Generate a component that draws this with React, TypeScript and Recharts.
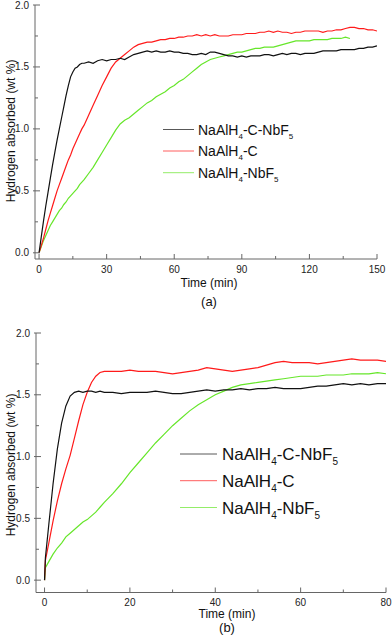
import { LineChart, Line, XAxis, YAxis } from "recharts"

const FONT = "'Liberation Sans', Arial, sans-serif"
const AXIS = "#666"
const BLACK = "#111111"
const RED = "#ff1a1a"
const GREEN = "#66e62a"

const seriesNames = ["NaAlH4-C-NbF5", "NaAlH4-C", "NaAlH4-NbF5"]

// panel (a)
const timeA = [
  0, 1, 2, 3, 4, 5, 6, 7, 8, 9, 10, 11, 12, 13, 14, 15, 16, 17, 18, 19, 20,
  22, 24, 26, 28, 30, 32, 34, 36, 38, 40,
  42, 44, 46, 48, 50, 52, 54, 56, 58, 60,
  62, 64, 66, 68, 70, 72, 74, 76, 78, 80,
  82, 84, 86, 88, 90, 92, 94, 96, 98, 100,
  102, 104, 106, 108, 110, 112, 114, 116, 118, 120,
  122, 124, 126, 128, 130, 132, 134, 136, 138, 140,
  142, 144, 146, 148, 150,
]
const blackA = [
  0, 0.13, 0.26, 0.38, 0.49, 0.6, 0.71, 0.81, 0.91, 1.0, 1.09, 1.18, 1.27, 1.35, 1.42, 1.46, 1.49, 1.5, 1.52, 1.53, 1.53,
  1.54, 1.53, 1.55, 1.56, 1.55, 1.56, 1.56, 1.57, 1.56, 1.58,
  1.60, 1.61, 1.62, 1.63, 1.62, 1.63, 1.62, 1.62, 1.63, 1.62,
  1.62, 1.61, 1.61, 1.60, 1.60, 1.61, 1.60, 1.62, 1.62, 1.61,
  1.60, 1.59, 1.59, 1.58, 1.59, 1.58, 1.59, 1.59, 1.59, 1.60,
  1.60, 1.59, 1.60, 1.61, 1.60, 1.61, 1.61, 1.60, 1.61, 1.61,
  1.61, 1.62, 1.63, 1.63, 1.63, 1.63, 1.64, 1.64, 1.64, 1.64,
  1.65, 1.65, 1.66, 1.66, 1.67,
]
const redA = [
  0, 0.06, 0.12, 0.19, 0.26, 0.32, 0.38, 0.44, 0.5, 0.55, 0.6, 0.65, 0.7, 0.75, 0.79, 0.84, 0.88, 0.92, 0.96, 1.0, 1.03,
  1.11, 1.19, 1.27, 1.35, 1.42, 1.49, 1.54, 1.57, 1.60, 1.63,
  1.66, 1.68, 1.69, 1.70, 1.70, 1.71, 1.72, 1.72, 1.73, 1.73,
  1.74, 1.74, 1.75, 1.75, 1.76, 1.75, 1.76, 1.75, 1.76, 1.75,
  1.75, 1.75, 1.76, 1.76, 1.76, 1.77, 1.77, 1.77, 1.78, 1.78,
  1.79, 1.78, 1.79, 1.78, 1.78, 1.77, 1.78, 1.78, 1.79, 1.79,
  1.79, 1.79, 1.78, 1.79, 1.79, 1.80, 1.80, 1.81, 1.82, 1.82,
  1.81, 1.81, 1.80, 1.80, 1.79,
]
const greenA = [
  0, 0.05, 0.1, 0.14, 0.18, 0.22, 0.25, 0.28, 0.31, 0.34, 0.36, 0.39, 0.41, 0.44, 0.46, 0.48, 0.5, 0.52, 0.55, 0.57, 0.59,
  0.64, 0.69, 0.75, 0.81, 0.87, 0.93, 0.99, 1.04, 1.07, 1.09,
  1.12, 1.15, 1.18, 1.21, 1.23, 1.26, 1.28, 1.30, 1.33, 1.35,
  1.38, 1.40, 1.43, 1.46, 1.49, 1.52, 1.54, 1.56, 1.57, 1.58,
  1.59, 1.60, 1.61, 1.62, 1.62, 1.63, 1.64, 1.65, 1.65, 1.66,
  1.66, 1.66, 1.67, 1.68, 1.69, 1.70, 1.71, 1.71, 1.71, 1.71,
  1.72, 1.72, 1.72, 1.72, 1.73, 1.73, 1.73, 1.74, 1.73, null,
  null, null, null, null, null,
]
const xTicksA = [0, 15, 30, 45, 60, 75, 90, 105, 120, 135, 150]

// panel (b)
const timeB = [
  0, 0.2,
  1, 2, 3, 4, 5, 6, 7, 8, 9, 10, 11, 12, 13, 14,
  16, 18, 20, 22, 24, 26, 28, 30, 32, 34,
  36, 38, 40, 42, 44, 46, 48, 50, 52, 54,
  56, 58, 60, 62, 64, 66, 68, 70, 72, 74,
  76, 78, 80,
]
const blackB = [
  0, 0.18,
  0.45, 0.78, 1.06, 1.27, 1.41, 1.49, 1.52, 1.53, 1.52, 1.53, 1.53, 1.52, 1.53, 1.52,
  1.52, 1.51, 1.52, 1.52, 1.52, 1.53, 1.52, 1.51, 1.51, 1.52,
  1.53, 1.54, 1.53, 1.54, 1.54, 1.55, 1.54, 1.55, 1.55, 1.56,
  1.55, 1.55, 1.55, 1.56, 1.57, 1.57, 1.58, 1.59, 1.58, 1.59,
  1.58, 1.59, 1.59,
]
const redB = [
  0, 0.16,
  0.30, 0.48, 0.64, 0.78, 0.90, 1.01, 1.15, 1.29, 1.42, 1.52, 1.60, 1.65, 1.68, 1.69,
  1.69, 1.69, 1.70, 1.69, 1.69, 1.69, 1.68, 1.67, 1.68, 1.69,
  1.70, 1.72, 1.71, 1.70, 1.69, 1.70, 1.71, 1.72, 1.74, 1.76,
  1.77, 1.76, 1.76, 1.76, 1.75, 1.76, 1.77, 1.78, 1.79, 1.78,
  1.78, 1.78, 1.77,
]
const greenB = [
  0, 0.10,
  0.15, 0.21, 0.26, 0.30, 0.35, 0.38, 0.41, 0.44, 0.47, 0.49, 0.52, 0.55, 0.59, 0.63,
  0.70, 0.78, 0.87, 0.95, 1.03, 1.11, 1.18, 1.25, 1.31, 1.37,
  1.42, 1.46, 1.50, 1.53, 1.56, 1.58, 1.59, 1.60, 1.61, 1.62,
  1.63, 1.64, 1.65, 1.65, 1.65, 1.66, 1.66, 1.66, 1.67, 1.67,
  1.67, 1.68, 1.67,
]
const xTicksB = [0, 10, 20, 30, 40, 50, 60, 70, 80]

const yTicks = [0, 0.25, 0.5, 0.75, 1.0, 1.25, 1.5, 1.75, 2.0]

const tableA = timeA.map((t, i) => ({ t, black: blackA[i], red: redA[i], green: greenA[i] }))
const tableB = timeB.map((t, i) => ({ t, black: blackB[i], red: redB[i], green: greenB[i] }))

const makeXTick = (majorStep: number) => (props: any) => {
  const { x, y, payload } = props
  const major = payload.value % majorStep === 0
  return (
    <g>
      <line x1={x} x2={x} y1={y} y2={y - (major ? 5 : 3)} stroke={AXIS} />
      {major && (
        <text x={x} y={y + 13.5} textAnchor="middle" fontSize={10} fill="#222" fontFamily={FONT}>
          {payload.value}
        </text>
      )}
    </g>
  )
}

const YTick = (props: any) => {
  const { x, y, payload } = props
  const v = payload.value
  const major = Math.abs(v * 2 - Math.round(v * 2)) < 1e-6
  return (
    <g>
      <line x1={major ? x - 2 : x} x2={x + (major ? 5 : 3)} y1={y} y2={y} stroke={AXIS} />
      {major && (
        <text x={x - 6} y={y + 3.5} textAnchor="end" fontSize={10} fill="#222" fontFamily={FONT}>
          {v.toFixed(1)}
        </text>
      )}
    </g>
  )
}

// text with the digits set as subscripts, for the svg overlay
function Formula({ text, x, y, size }: { text: string; x: number; y: number; size: number }) {
  const parts = text.split(/(\d)/).filter((p) => p !== "")
  const sub = Math.round(size * 0.6)
  const drop = size * 0.3
  let down = false
  return (
    <text x={x} y={y} fontSize={size} fill="#111" fontFamily={FONT}>
      {parts.map((p, i) => {
        const isSub = /\d/.test(p)
        const dy = isSub ? (down ? 0 : drop) : down ? -drop : 0
        down = isSub
        return (
          <tspan key={i} dy={dy} fontSize={isSub ? sub : size}>
            {p}
          </tspan>
        )
      })}
    </text>
  )
}

interface PanelProps {
  data: any[]
  height: number
  margin: { top: number; right: number; bottom: number; left: number }
  yWidth: number
  xHeight: number
  xDomain: [number, number]
  yDomain: [number, number]
  xTicks: number[]
  majorStep: number
  yTitleY: number
  xTitle: { x: number; y: number }
  tag: string
  tagY: number
  legend: { lineX: number; lineW: number; textX: number; rows: number[]; size: number }
}

function Panel(p: PanelProps) {
  const colors = [BLACK, RED, GREEN]
  return (
    <div style={{ position: "relative", width: 392, height: p.height }}>
      <LineChart width={392} height={p.height} data={p.data} margin={p.margin}>
        <XAxis
          dataKey="t"
          type="number"
          domain={p.xDomain}
          ticks={p.xTicks}
          interval={0}
          allowDataOverflow
          height={p.xHeight}
          stroke={AXIS}
          tickLine={false}
          tickSize={0}
          tickMargin={0}
          tick={makeXTick(p.majorStep)}
        />
        <XAxis
          xAxisId="top"
          orientation="top"
          dataKey="t"
          type="number"
          domain={p.xDomain}
          height={0}
          stroke={AXIS}
          tick={false}
          tickLine={false}
        />
        <YAxis
          type="number"
          domain={p.yDomain}
          ticks={yTicks}
          interval={0}
          allowDataOverflow
          width={p.yWidth}
          stroke={AXIS}
          tickLine={false}
          tickSize={0}
          tickMargin={0}
          tick={YTick}
        />
        <YAxis
          yAxisId="right"
          orientation="right"
          domain={p.yDomain}
          width={0}
          stroke={AXIS}
          tick={false}
          tickLine={false}
        />
        <Line dataKey="green" stroke={GREEN} strokeWidth={1.2} dot={false} isAnimationActive={false} />
        <Line dataKey="red" stroke={RED} strokeWidth={1.2} dot={false} isAnimationActive={false} />
        <Line dataKey="black" stroke={BLACK} strokeWidth={1.2} dot={false} isAnimationActive={false} />
      </LineChart>
      <svg
        width={392}
        height={p.height}
        style={{ position: "absolute", left: 0, top: 0, pointerEvents: "none" }}
      >
        <text
          transform={`translate(15, ${p.yTitleY}) rotate(-90)`}
          textAnchor="middle"
          fontSize={12}
          fill="#111"
          fontFamily={FONT}
        >
          Hydrogen absorbed (wt %)
        </text>
        <text x={p.xTitle.x} y={p.xTitle.y} textAnchor="middle" fontSize={12} fill="#111" fontFamily={FONT}>
          Time (min)
        </text>
        <text x={p.xTitle.x} y={p.tagY} textAnchor="middle" fontSize={13} fill="#111" fontFamily={FONT}>
          {p.tag}
        </text>
        {seriesNames.map((name, i) => (
          <g key={name}>
            <line
              x1={p.legend.lineX}
              x2={p.legend.lineX + p.legend.lineW}
              y1={p.legend.rows[i]}
              y2={p.legend.rows[i]}
              stroke={colors[i]}
              strokeOpacity={0.7}
            />
            <Formula
              text={name}
              x={p.legend.textX}
              y={p.legend.rows[i] + p.legend.size * 0.36}
              size={p.legend.size}
            />
          </g>
        ))}
      </svg>
    </div>
  )
}

export default function App() {
  return (
    <div style={{ position: "absolute", left: 0, top: 0, width: 392, height: 636, background: "#fff", fontFamily: FONT }}>
      <Panel
        data={tableA}
        height={320}
        margin={{ top: 5, right: 15, bottom: 0, left: 0 }}
        yWidth={35}
        xHeight={61}
        xDomain={[-1.8, 150]}
        yDomain={[-0.05, 2.0]}
        xTicks={xTicksA}
        majorStep={30}
        yTitleY={131}
        xTitle={{ x: 209, y: 287 }}
        tag="(a)"
        tagY={306}
        legend={{ lineX: 163, lineW: 31, textX: 198, rows: [129.5, 151, 172.7], size: 14 }}
      />
      <Panel
        data={tableB}
        height={316}
        margin={{ top: 13, right: 6, bottom: 0, left: 0 }}
        yWidth={36}
        xHeight={43.5}
        xDomain={[-2, 80]}
        yDomain={[-0.1, 2.0]}
        xTicks={xTicksB}
        majorStep={20}
        yTitleY={145}
        xTitle={{ x: 227, y: 298 }}
        tag="(b)"
        tagY={312}
        legend={{ lineX: 180, lineW: 37, textX: 222, rows: [134, 160.7, 187.5], size: 17 }}
      />
    </div>
  )
}
